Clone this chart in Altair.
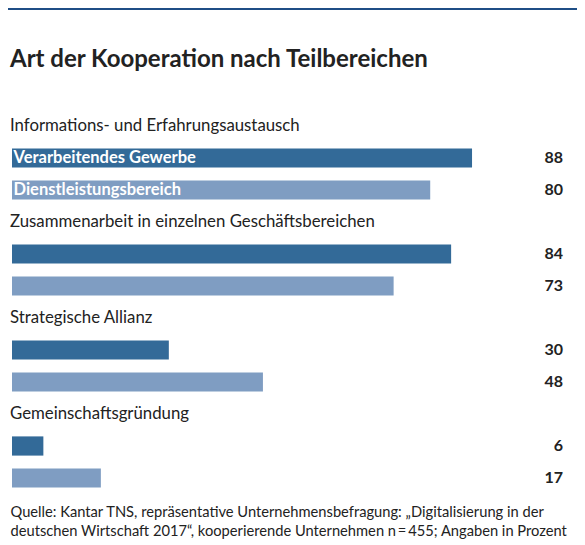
import altair as alt
import pandas as pd

groups = [
    "Informations- und Erfahrungsaustausch",
    "Zusammenarbeit in einzelnen Geschäftsbereichen",
    "Strategische Allianz",
    "Gemeinschaftsgründung",
]
series = ["Verarbeitendes Gewerbe", "Dienstleistungsbereich"]
manufacturing = [88, 84, 30, 6]
services = [80, 73, 48, 17]
colors = ["#336a98", "#7f9dc2"]
title = "Art der Kooperation nach Teilbereichen"
footer = [
    "Quelle: Kantar TNS, repräsentative  Unternehmensbefragung: „Digitalisierung in der",
    "deutschen Wirtschaft 2017“, kooperierende Unternehmen n\u2009=\u2009455; Angaben in Prozent",
]

bar_rows = []
label_rows = []
for i, g in enumerate(groups):
    label_rows.append({"row": 3 * i, "text": g})
    for j, vals in enumerate([manufacturing, services]):
        bar_rows.append({
            "row": 3 * i + 1 + j,
            "value": vals[i],
            "series": series[j],
            "inside": series[j] if i == 0 else "",
        })
bars_df = pd.DataFrame(bar_rows)
labels_df = pd.DataFrame(label_rows)

FONT = "Lato"
W, H = 551, 384
rows = list(range(12))
yscale = alt.Scale(domain=rows, paddingInner=0.4, paddingOuter=0.2)
y = alt.Y("row:O", scale=yscale, axis=None)

base = alt.Chart(bars_df)
bars = base.mark_bar().encode(
    y=y,
    x=alt.X(
        "value:Q",
        scale=alt.Scale(domain=[0, 105.4], nice=False, zero=True),
        axis=alt.Axis(
            domain=False, ticks=False, labels=False, grid=False,
            title=footer, titleFont=FONT, titleFontSize=14.7, titleFontWeight="normal",
            titleColor="#222222", titleAlign="left", titleAnchor="start",
            titleBaseline="top", titleX=-2, titleY=10, titleLineHeight=19,
        ),
    ),
    color=alt.Color("series:N", scale=alt.Scale(domain=series, range=colors), legend=None),
)
inside = base.mark_text(
    align="left", baseline="middle", font=FONT, fontSize=16.5, fontWeight="bold", color="white"
).encode(y=y, x=alt.value(1.5), text="inside:N")
values = base.mark_text(
    align="right", baseline="middle", font=FONT, fontSize=16, fontWeight="bold", color="#222222"
).encode(y=y, x=alt.value(W), text="value:Q")
glabels = alt.Chart(labels_df).mark_text(
    align="left", baseline="middle", font=FONT, fontSize=16.8, color="#222222"
).encode(y=y, x=alt.value(-2), text="text:N")
topline = alt.Chart(labels_df.head(1)).mark_rule(color="#1f4e86", strokeWidth=2).encode(
    x=alt.value(-4), x2=alt.value(W + 14), y=alt.value(-101)
)

chart = alt.layer(topline, bars, inside, values, glabels).properties(
    width=W,
    height=H,
    padding={"left": 4, "top": 102, "right": 14, "bottom": 47},
    autosize=alt.AutoSizeParams(type="none"),
    title=alt.TitleParams(
        title, anchor="start", frame="group", font=FONT, fontSize=24, fontWeight="bold",
        color="#222222", baseline="alphabetic", offset=0, dx=-2, dy=83,
    ),
).configure_view(stroke=None)

chart.save("out.html", embed_options={"renderer": "svg", "actions": False})
